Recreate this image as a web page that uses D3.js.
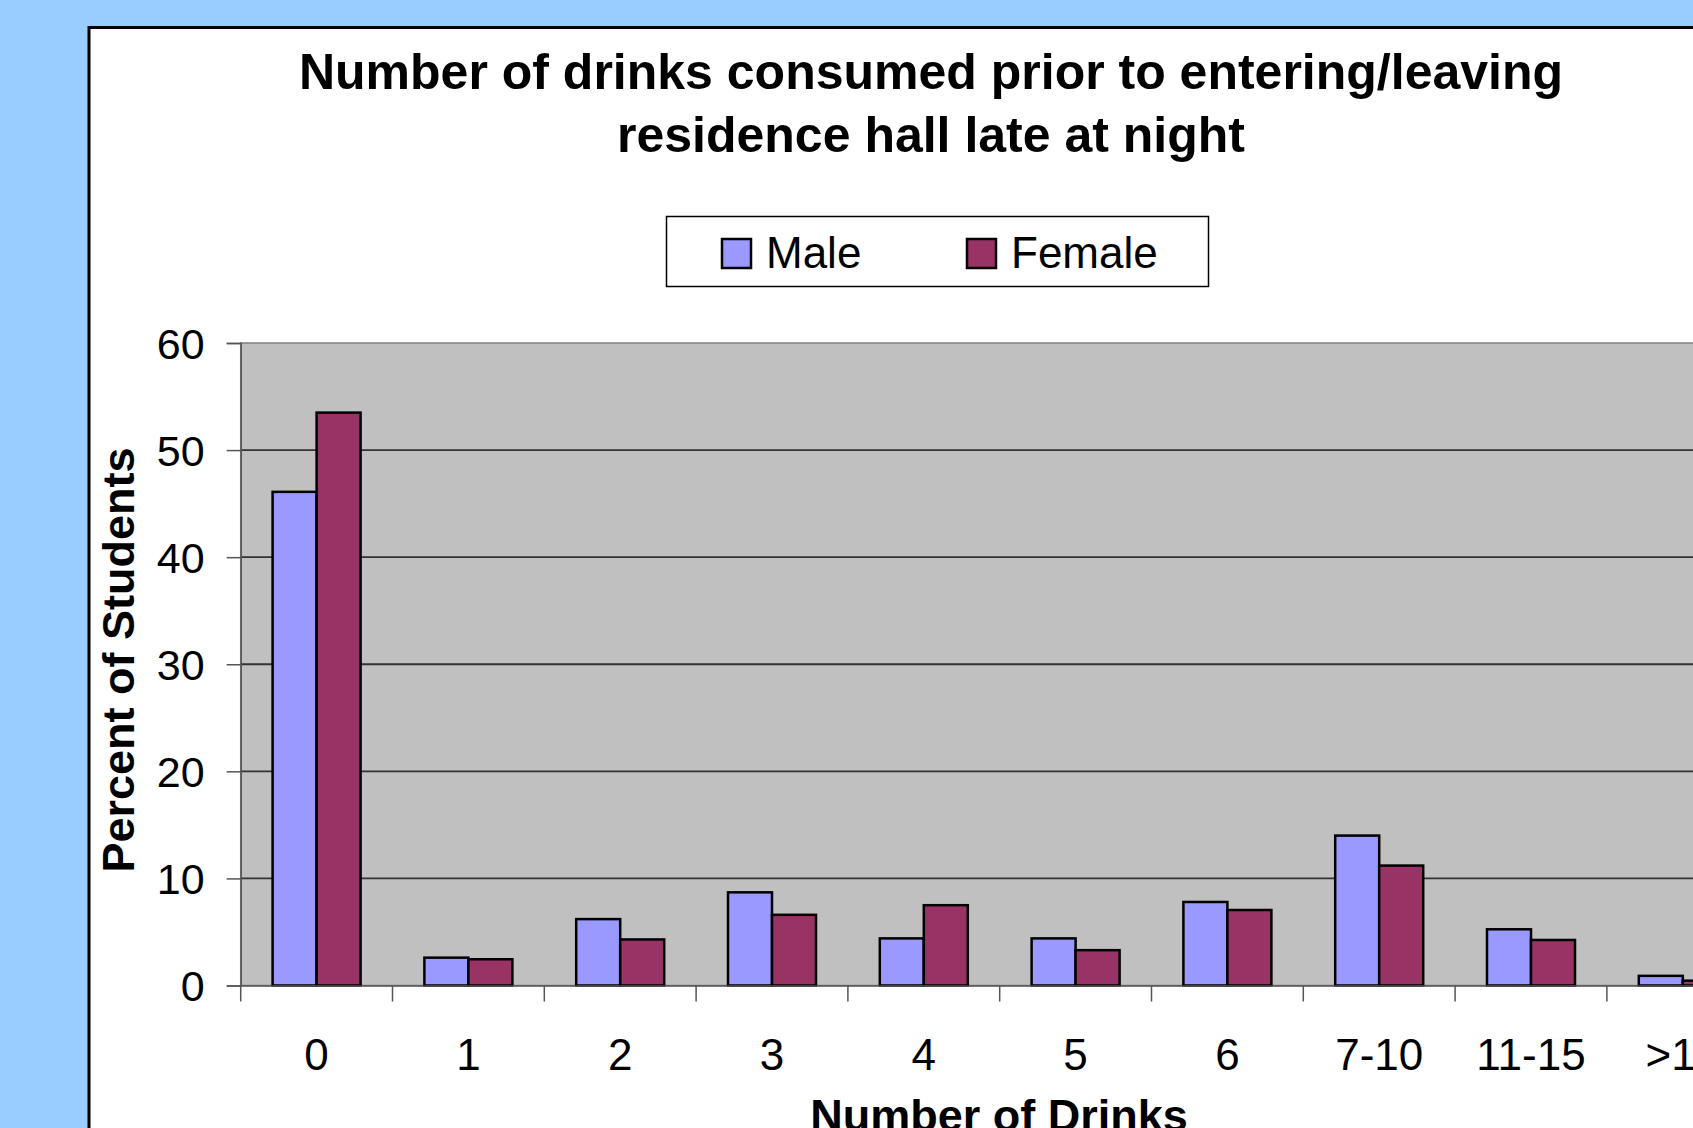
<!DOCTYPE html>
<html>
<head>
<meta charset="utf-8">
<script src="https://cdn.jsdelivr.net/npm/d3@7"></script>
<style>
  html, body { margin: 0; padding: 0; overflow: hidden; background: #99CCFF; }
  svg { display: block; font-family: Arial, "Liberation Sans", sans-serif; }
</style>
</head>
<body>
<div class="container"></div>
<script>
// Data
const categories = ["0", "1", "2", "3", "4", "5", "6", "7-10", "11-15", ">15"];
const series = ["Male", "Female"];
const maleValues = [46.1, 2.6, 6.2, 8.7, 4.4, 4.4, 7.8, 14.0, 5.25, 0.9];
const femaleValues = [53.5, 2.45, 4.3, 6.6, 7.5, 3.3, 7.05, 11.2, 4.25, 0.45];
const yTicks = [0, 10, 20, 30, 40, 50, 60];
const colors = {Male: "#9999FF", Female: "#993366"};

const dataset = categories.map((c, i) => ({cat: c, Male: maleValues[i], Female: femaleValues[i]}));

// Dimensions
const w = 1693, h = 1128;
const plotLeft = 240.7, plotTop = 343, plotBottom = 985.5;
const catW = 151.8;

const svg = d3.select(".container")
  .append("svg")
  .attr("width", w)
  .attr("height", h);

// Chart box
svg.append("rect")
  .attr("x", 89).attr("y", 27.5)
  .attr("width", 1800).attr("height", 1300)
  .attr("fill", "#fff")
  .attr("stroke", "#000")
  .attr("stroke-width", 3);

// Scales
const xScale = d3.scaleBand()
  .domain(categories)
  .range([plotLeft, plotLeft + catW * categories.length])
  .paddingInner(0).paddingOuter(0);

const xSub = d3.scaleBand()
  .domain(series)
  .range([0, xScale.bandwidth()])
  .paddingInner(0).paddingOuter(0.725);

const yScale = d3.scaleLinear()
  .domain([0, 60])
  .range([plotBottom, plotTop]);

// Plot area
svg.append("rect")
  .attr("x", plotLeft).attr("y", plotTop)
  .attr("width", catW * categories.length).attr("height", plotBottom - plotTop)
  .attr("fill", "#C0C0C0")
  .attr("stroke", "#808080")
  .attr("stroke-width", 1.5);

// Gridlines
svg.append("g")
  .selectAll("line")
  .data(yTicks.filter(d => d > 0 && d < 60))
  .enter()
  .append("line")
  .attr("x1", plotLeft).attr("x2", plotLeft + catW * categories.length)
  .attr("y1", d => yScale(d)).attr("y2", d => yScale(d))
  .attr("stroke", "#333")
  .attr("stroke-width", 1.8);

// Y axis
const yAxis = d3.axisLeft(yScale).tickValues(yTicks).tickSize(14).tickPadding(22);
const yAxisGroup = svg.append("g")
  .attr("transform", `translate(${plotLeft},0)`)
  .call(yAxis);
yAxisGroup.select(".domain").attr("stroke", "#555").attr("stroke-width", 1.5);
yAxisGroup.selectAll(".tick line").attr("stroke", "#555").attr("stroke-width", 1.5);
yAxisGroup.selectAll("text")
  .style("font-size", "43px")
  .attr("fill", "#000")
  .attr("dy", "0.36em");

// Bars
const groups = svg.append("g")
  .selectAll("g")
  .data(dataset)
  .enter()
  .append("g")
  .attr("transform", d => `translate(${xScale(d.cat)},0)`);

groups.selectAll("rect")
  .data(d => series.map(s => ({key: s, value: d[s]})))
  .enter()
  .append("rect")
  .attr("x", d => xSub(d.key))
  .attr("y", d => yScale(d.value))
  .attr("width", xSub.bandwidth())
  .attr("height", d => yScale(0) - yScale(d.value))
  .attr("fill", d => colors[d.key])
  .attr("stroke", "#000")
  .attr("stroke-width", 2.5);

// X axis
const xAxis = d3.axisBottom(xScale).tickSize(0).tickPadding(53);
const xAxisGroup = svg.append("g")
  .attr("transform", `translate(0,${plotBottom})`)
  .call(xAxis);
xAxisGroup.select(".domain").attr("stroke", "#555").attr("stroke-width", 1.5);
xAxisGroup.selectAll("text")
  .style("font-size", "44px")
  .attr("fill", "#000");

// Boundary ticks on x axis
svg.append("g")
  .selectAll("line")
  .data(categories.concat(["end"]))
  .enter()
  .append("line")
  .attr("x1", (d, i) => plotLeft + i * xScale.step())
  .attr("x2", (d, i) => plotLeft + i * xScale.step())
  .attr("y1", plotBottom).attr("y2", plotBottom + 16)
  .attr("stroke", "#555")
  .attr("stroke-width", 1.5);

// Title
const title = svg.append("text")
  .attr("x", 931)
  .attr("y", 89)
  .style("font-size", "50px")
  .style("font-weight", "bold")
  .style("text-anchor", "middle");
title.append("tspan").attr("x", 931).attr("y", 89).text("Number of drinks consumed prior to entering/leaving");
title.append("tspan").attr("x", 931).attr("y", 152).text("residence hall late at night");

// Axis titles
svg.append("text")
  .attr("transform", "rotate(-90)")
  .attr("x", -660)
  .attr("y", 134)
  .style("font-size", "45px")
  .style("font-weight", "bold")
  .style("text-anchor", "middle")
  .text("Percent of Students");

svg.append("text")
  .attr("x", 999)
  .attr("y", 1131)
  .style("font-size", "45px")
  .style("font-weight", "bold")
  .style("text-anchor", "middle")
  .text("Number of Drinks");

// Legend
const legend = svg.append("g");
legend.append("rect")
  .attr("x", 666.5).attr("y", 216.5)
  .attr("width", 542).attr("height", 70)
  .attr("fill", "#fff")
  .attr("stroke", "#000")
  .attr("stroke-width", 1.5);

const legendX = [722, 967];
const items = legend.selectAll("g.item")
  .data(series)
  .enter()
  .append("g")
  .attr("class", "item")
  .attr("transform", (d, i) => `translate(${legendX[i]},239)`);

items.append("rect")
  .attr("width", 29).attr("height", 29)
  .attr("fill", d => colors[d])
  .attr("stroke", "#000")
  .attr("stroke-width", 2.5);

items.append("text")
  .attr("x", 44)
  .attr("y", 29)
  .style("font-size", "44px")
  .text(d => d);
</script>
</body>
</html>
